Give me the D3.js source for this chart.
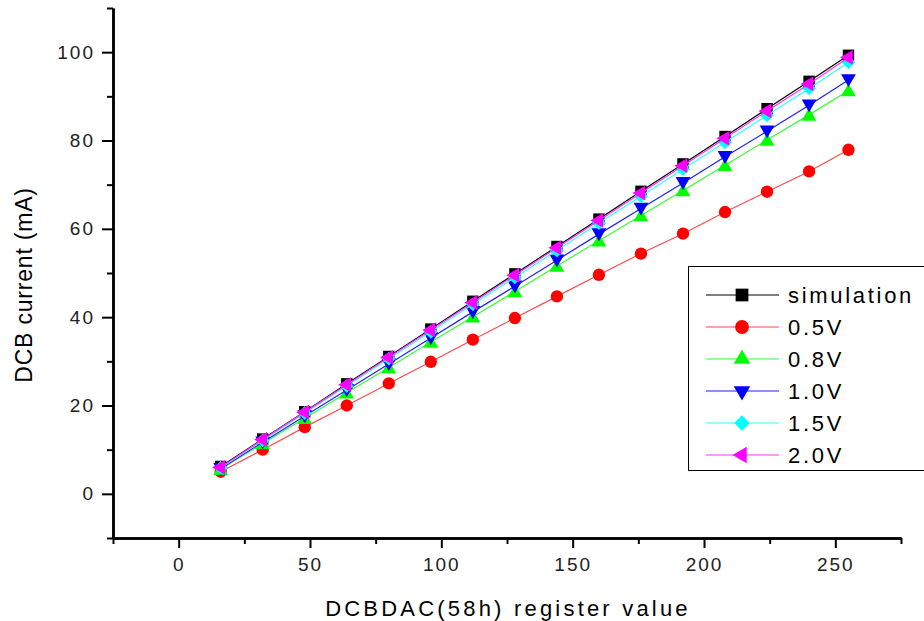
<!DOCTYPE html>
<html lang="en">
<head>
  <meta charset="UTF-8">
  <title>DCB current</title>
  <script src="https://d3js.org/d3.v7.min.js"></script>
  <style>
    body { margin: 0; background: #fff; }
    text { font-family: "Liberation Sans", Arial, sans-serif; }
  </style>
</head>
<body>
<div class="main"></div>
<script>
  // register values (x)
  var regValues = [16, 32, 48, 64, 80, 96, 112, 128, 144, 160, 176, 192, 208, 224, 240, 255];

  // series (mA)
  var simulation = [6.2, 12.4, 18.6, 24.9, 31.1, 37.3, 43.6, 49.8, 56.0, 62.2, 68.5, 74.7, 80.9, 87.2, 93.4, 99.3];
  var v05 = [5.0, 10.0, 15.1, 20.0, 25.0, 29.9, 34.9, 39.8, 44.7, 49.6, 54.4, 58.9, 63.8, 68.4, 73.0, 77.9];
  var v08 = [5.6, 11.4, 17.1, 22.9, 28.6, 34.4, 40.1, 45.8, 51.6, 57.3, 63.0, 68.7, 74.4, 80.1, 85.8, 91.3];
  var v10 = [5.7, 11.7, 17.6, 23.5, 29.4, 35.3, 41.2, 47.0, 52.9, 58.8, 64.6, 70.4, 76.3, 82.1, 88.0, 93.7];
  var v15 = [5.9, 12.1, 18.3, 24.4, 30.6, 36.7, 42.9, 49.0, 55.1, 61.3, 67.4, 73.5, 79.6, 85.7, 91.8, 97.7];
  var v20 = [6.0, 12.3, 18.5, 24.7, 30.9, 37.1, 43.3, 49.5, 55.7, 61.9, 68.1, 74.3, 80.5, 86.7, 92.8, 98.8];

  var seriesNames = ["simulation", "0.5V", "0.8V", "1.0V", "1.5V", "2.0V"];
  var seriesValues = [simulation, v05, v08, v10, v15, v20];
  var seriesColors = ["#000000", "#ff0000", "#00ff00", "#0000ff", "#00ffff", "#ff00ff"];
  var lineColors = ["#000000", "#ff4a4a", "#33ff33", "#2020ff", "#33ffff", "#ff33ff"];

  var xMajor = [0, 50, 100, 150, 200, 250];
  var xMinor = [-25, 25, 75, 125, 175, 225, 275];
  var yMajor = [0, 20, 40, 60, 80, 100];
  var yMinor = [-10, 10, 30, 50, 70, 90, 110];

  var width = 924, height = 621;
  var plotLeft = 113, plotRight = 901, plotTop = 8, plotBottom = 538;

  var svg = d3.select(".main").append("svg")
      .attr("width", width).attr("height", height)
      .style("display", "block");

  var xScale = d3.scaleLinear().domain([-25, 275]).range([plotLeft, plotRight]);
  var yScale = d3.scaleLinear().domain([-10, 110]).range([plotBottom, plotTop]);

  // marker shapes
  function markerPath(idx, big) {
    var k = big ? 1.25 : 1;
    if (idx == 0) return d3.symbol(d3.symbolSquare, 130 * k)();
    if (idx == 1) return d3.symbol(d3.symbolCircle, 120 * k)();
    if (idx == 4) return d3.symbol(d3.symbolSquare, 95 * k)();
    return d3.symbol(d3.symbolTriangle, 95 * k)();
  }
  var markerRotate = [0, 0, 0, 180, 45, -90];

  // lines + markers
  var line = d3.line()
      .x(function (d, i) { return xScale(regValues[i]); })
      .y(function (d) { return yScale(d); });

  for (let s = 0; s < seriesValues.length; s++) {
    var g = svg.append("g");
    g.append("path")
        .datum(seriesValues[s])
        .attr("d", line)
        .attr("fill", "none")
        .attr("stroke", lineColors[s])
        .attr("stroke-width", 1.2);
    g.selectAll("path.mk")
        .data(seriesValues[s])
        .join("path")
        .attr("class", "mk")
        .attr("d", markerPath(s, false))
        .attr("fill", seriesColors[s])
        .attr("transform", function (d, i) {
          var dy = (s == 2) ? 1.5 : (s == 3 ? -1.5 : 0);
          return "translate(" + xScale(regValues[i]) + "," + (yScale(d) + dy) + ") rotate(" + markerRotate[s] + ")";
        });
  }

  function drawAxis(axis, translate, cls) {
    var a = svg.append("g")
        .attr("transform", translate)
        .attr("class", cls)
        .call(axis);
    a.select(".domain").attr("stroke", "#000").attr("stroke-width", 2.5);
    a.selectAll(".tick line").attr("stroke", "#000").attr("stroke-width", 2);
    a.selectAll(".tick text")
        .attr("fill", "#222")
        .style("font-size", "19px")
        .style("letter-spacing", "2px");
    return a;
  }

  drawAxis(d3.axisBottom(xScale).tickValues(xMinor).tickSize(6).tickSizeOuter(0).tickFormat(""),
      "translate(0," + plotBottom + ")", "xminor");
  drawAxis(d3.axisBottom(xScale).tickValues(xMajor).tickSize(10).tickSizeOuter(0).tickPadding(10),
      "translate(0," + plotBottom + ")", "xmajor");
  drawAxis(d3.axisLeft(yScale).tickValues(yMinor).tickSize(6).tickSizeOuter(0).tickFormat(""),
      "translate(" + plotLeft + ",0)", "yminor");
  drawAxis(d3.axisLeft(yScale).tickValues(yMajor).tickSize(11).tickSizeOuter(0).tickPadding(7),
      "translate(" + plotLeft + ",0)", "ymajor");

  // axis titles
  svg.append("text")
      .attr("x", 508).attr("y", 616)
      .attr("text-anchor", "middle")
      .style("font-size", "22px")
      .style("letter-spacing", "3.2px")
      .text("DCBDAC(58h) register value");

  svg.append("text")
      .attr("transform", "translate(32,285) rotate(-90)")
      .attr("text-anchor", "middle")
      .style("font-size", "23px")
      .style("letter-spacing", "0.8px")
      .text("DCB current (mA)");

  // legend
  var lg = svg.append("g");
  lg.append("rect")
      .attr("x", 688.5).attr("y", 266.5)
      .attr("width", 260).attr("height", 204)
      .attr("fill", "#fff").attr("stroke", "#000").attr("stroke-width", 1);

  seriesNames.forEach(function (name, i) {
    var yy = 295 + i * 32;
    lg.append("line")
        .attr("x1", 706).attr("x2", 779).attr("y1", yy).attr("y2", yy)
        .attr("stroke", lineColors[i]).attr("stroke-width", 1.2);
    lg.append("path")
        .attr("d", markerPath(i, true))
        .attr("fill", seriesColors[i])
        .attr("transform", "translate(742," + yy + ") rotate(" + markerRotate[i] + ")");
    lg.append("text")
        .attr("x", 788).attr("y", yy + 8)
        .style("font-size", "22px")
        .style("letter-spacing", "2.7px")
        .text(name);
  });
</script>
</body>
</html>
